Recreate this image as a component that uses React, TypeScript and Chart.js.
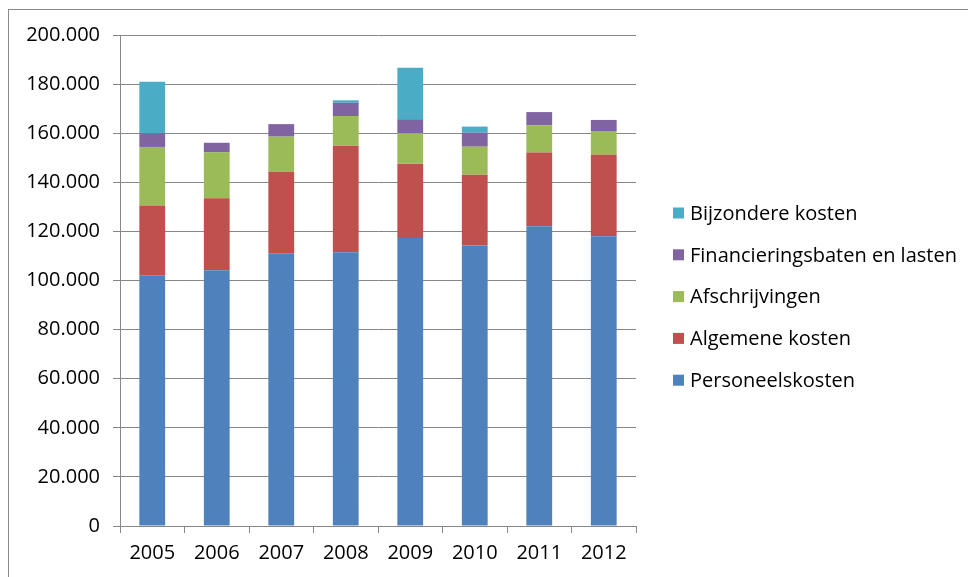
import React, { useEffect, useRef } from "react";
import { Chart, registerables } from "chart.js";

Chart.register(...registerables);

const years = ["2005", "2006", "2007", "2008", "2009", "2010", "2011", "2012"];
const personeelskosten = [102100, 104200, 111100, 111500, 117300, 114300, 122100, 118000];
const algemeneKosten = [28400, 29300, 33200, 43400, 30300, 28800, 30000, 33200];
const afschrijvingen = [23900, 18700, 14300, 12100, 12400, 11400, 11100, 9700];
const financieringsbaten = [5600, 3900, 5100, 5400, 5700, 5700, 5400, 4500];
const bijzondereKosten = [21000, 0, 0, 1000, 21000, 2500, 0, 0];
const yTicks = [0, 20000, 40000, 60000, 80000, 100000, 120000, 140000, 160000, 180000, 200000];

const FONT = "'Open Sans', 'DejaVu Sans', sans-serif";
const FONT_SIZE = 20;
const W = 959;
const H = 567;

const fmt = (v: number) => String(v).replace(/\B(?=(\d{3})+(?!\d))/g, ".");

const sideLegend = {
  id: "sideLegend",
  afterDraw(chart: any) {
    const ctx = chart.ctx;
    const ds = chart.data.datasets;
    const step = 41.8;
    const top = 203;
    const x = chart.chartArea.right + 37;
    ctx.save();
    ctx.font = `${FONT_SIZE}px ${FONT}`;
    ctx.textBaseline = "middle";
    ctx.textAlign = "left";
    const order = ds.map((_: any, i: number) => i).reverse();
    order.forEach((di: number, k: number) => {
      const y = top + k * step;
      ctx.fillStyle = ds[di].backgroundColor;
      ctx.fillRect(x, y - 5.5, 11, 11);
      ctx.fillStyle = "#000";
      ctx.fillText(ds[di].label, x + 17, y + 1);
    });
    ctx.restore();
  },
};

export default function App() {
  const ref = useRef<HTMLCanvasElement | null>(null);
  useEffect(() => {
    if (!ref.current) return;
    const gridColor = "#878787";
    const chart = new Chart(ref.current, {
      type: "bar",
      data: {
        labels: years,
        datasets: [
          { label: "Personeelskosten", data: personeelskosten, backgroundColor: "#4F81BD" },
          { label: "Algemene kosten", data: algemeneKosten, backgroundColor: "#C0504D" },
          { label: "Afschrijvingen", data: afschrijvingen, backgroundColor: "#9BBB59" },
          { label: "Financieringsbaten en lasten", data: financieringsbaten, backgroundColor: "#8064A2" },
          { label: "Bijzondere kosten", data: bijzondereKosten, backgroundColor: "#4BACC6" },
        ],
      },
      options: {
        animation: false,
        responsive: false,
        maintainAspectRatio: false,
        devicePixelRatio: 1,
        layout: { padding: { top: 25, right: 332, left: 0, bottom: 0 } },
        datasets: { bar: { barPercentage: 0.4, categoryPercentage: 1, borderWidth: 0 } },
        plugins: { legend: { display: false }, tooltip: { enabled: false }, title: { display: false } },
        scales: {
          x: {
            stacked: true,
            offset: true,
            grid: { display: true, drawOnChartArea: false, offset: true, color: gridColor, tickLength: 7, lineWidth: 1 },
            border: { color: gridColor, width: 1 },
            ticks: { color: "#000", font: { family: FONT, size: FONT_SIZE }, padding: 8, maxRotation: 0 },
            afterFit: (s: any) => { s.height = 51; },
          },
          y: {
            stacked: true,
            min: 0,
            max: 200000,
            afterBuildTicks: (s: any) => { s.ticks = yTicks.map((v) => ({ value: v })); },
            grid: { color: gridColor, tickLength: 7, lineWidth: 1 },
            border: { color: gridColor, width: 1 },
            ticks: { color: "#000", font: { family: FONT, size: FONT_SIZE }, padding: 13, callback: (v: any) => fmt(Number(v)) },
            afterFit: (s: any) => { s.width = 111; },
          },
        },
      },
      plugins: [sideLegend],
    });
    return () => chart.destroy();
  }, []);
  return (
    <div style={{ position: "absolute", left: 8, top: 9, borderLeft: "1px solid #8a8a8a", borderTop: "1px solid #8a8a8a", width: W, height: H, background: "#fff" }}>
      <canvas ref={ref} width={W} height={H} style={{ display: "block", width: W, height: H }} />
    </div>
  );
}
